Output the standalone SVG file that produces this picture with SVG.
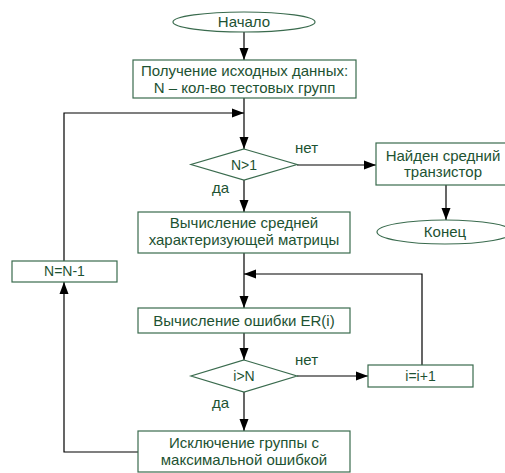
<svg xmlns="http://www.w3.org/2000/svg" width="505" height="473" viewBox="0 0 505 473">
<defs>
<style>
.n{fill:#fff;stroke:#3a6b4e;stroke-width:1.2}
.t{font-family:"Liberation Sans",Arial,sans-serif;font-size:15px;fill:#1d5232;text-anchor:middle}
.s{font-size:14px}
.l{font-family:"Liberation Sans",Arial,sans-serif;font-size:15px;fill:#1d5232}
.c{fill:none;stroke:#000;stroke-width:1.2}
</style>
<marker id="a" viewBox="0 0 12 10" refX="12" refY="5" markerWidth="12" markerHeight="10" markerUnits="userSpaceOnUse" orient="auto">
<path d="M0,0.5 L12,5 L0,9.5 Z" fill="#000"/>
</marker>
</defs>
<rect width="505" height="473" fill="#fff"/>
<g id="connectors">
<path class="c" d="M244,32 V60" marker-end="url(#a)"/>
<path class="c" d="M244,98 V149" marker-end="url(#a)"/>
<path class="c" d="M64,261 V113 H244" marker-end="url(#a)"/>
<path class="c" d="M297,165 H376" marker-end="url(#a)"/>
<path class="c" d="M244,180 V212" marker-end="url(#a)"/>
<path class="c" d="M446,185 V220" marker-end="url(#a)"/>
<path class="c" d="M244,253 V308" marker-end="url(#a)"/>
<path class="c" d="M422,365 V274 H244" marker-end="url(#a)"/>
<path class="c" d="M244,333 V360" marker-end="url(#a)"/>
<path class="c" d="M297,376 H368" marker-end="url(#a)"/>
<path class="c" d="M244,392 V431" marker-end="url(#a)"/>
<path class="c" d="M138,452 H64 V282" marker-end="url(#a)"/>
<text class="l" x="295" y="153">нет</text>
<text class="l" x="212" y="193">да</text>
<text class="l" x="295" y="365">нет</text>
<text class="l" x="212" y="408">да</text>
</g>
<g id="start">
<ellipse class="n" cx="244" cy="22" rx="71" ry="10"/>
<text class="t" x="244" y="27">Начало</text>
</g>
<g id="input">
<rect class="n" x="133" y="60" width="223" height="38"/>
<text class="t" x="244.5" y="76">Получение исходных данных:</text>
<text class="t" x="244.5" y="93">N – кол-во тестовых групп</text>
</g>
<g id="cond1">
<polygon class="n" points="244,149 297,164.5 244,180 191,164.5"/>
<text class="t s" x="244" y="170">N&gt;1</text>
</g>
<g id="found">
<rect class="n" x="376" y="143" width="134" height="42"/>
<text class="t" x="443" y="161">Найден средний</text>
<text class="t" x="443" y="177">транзистор</text>
</g>
<g id="end">
<ellipse class="n" cx="445" cy="232" rx="68" ry="12"/>
<text class="t" x="445" y="237">Конец</text>
</g>
<g id="mean">
<rect class="n" x="138" y="212" width="212" height="41"/>
<text class="t" x="244" y="228">Вычисление средней</text>
<text class="t" x="244" y="245">характеризующей матрицы</text>
</g>
<g id="decr">
<rect class="n" x="12" y="261" width="105" height="21"/>
<text class="t s" x="64.5" y="276">N=N-1</text>
</g>
<g id="error">
<rect class="n" x="138" y="308" width="212" height="25"/>
<text class="t" x="244" y="326">Вычисление ошибки ER(i)</text>
</g>
<g id="cond2">
<polygon class="n" points="244,360 297,376 244,392 191,376"/>
<text class="t s" x="244" y="381">i&gt;N</text>
</g>
<g id="inc">
<rect class="n" x="368" y="365" width="105" height="22"/>
<text class="t s" x="420.5" y="381">i=i+1</text>
</g>
<g id="exclude">
<rect class="n" x="138" y="431" width="212" height="41"/>
<text class="t" x="244" y="448">Исключение группы с</text>
<text class="t" x="244" y="465">максимальной ошибкой</text>
</g>
</svg>
